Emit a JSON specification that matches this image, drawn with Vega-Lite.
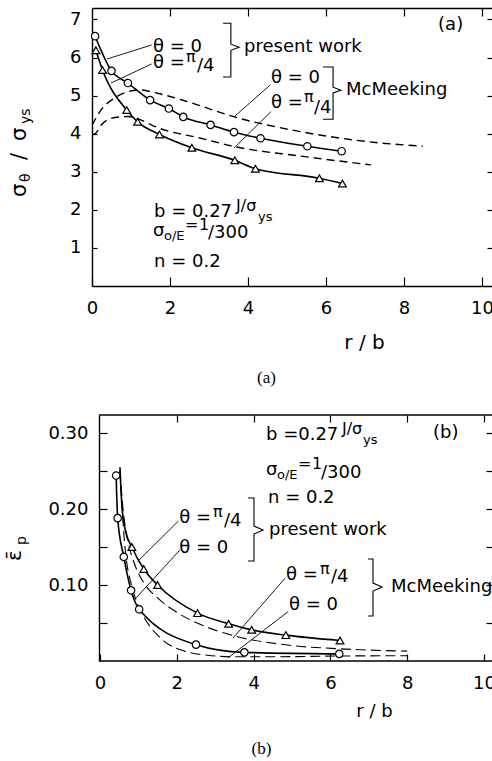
{
  "$schema": "https://vega.github.io/schema/vega-lite/v6.json",
  "background": "white",
  "padding": {"left": 4, "top": 7, "right": -3, "bottom": 0},
  "spacing": 28,
  "config": {
    "view": {"stroke": null},
    "axis": {
      "grid": false, "labelFont": "DejaVu Sans", "labelFontSize": 18, "labelColor": "black",
      "labelFlush": false, "labelOverlap": false, "domainColor": "black", "domainWidth": 1.4,
      "tickColor": "black", "tickWidth": 1.2, "titleFont": "DejaVu Sans", "titleFontSize": 20,
      "titleFontWeight": "normal", "titleColor": "black"
    },
    "title": {"font": "Liberation Serif", "fontSize": 17, "fontWeight": "normal", "color": "black"}
  },
  "datasets": {
    "a_curves": [
      {"s": "pw0", "x": 0.08, "y": 6.56}, {"s": "pw0", "x": 0.5, "y": 5.65}, {"s": "pw0", "x": 0.92, "y": 5.33},
      {"s": "pw0", "x": 1.49, "y": 4.88}, {"s": "pw0", "x": 1.97, "y": 4.66}, {"s": "pw0", "x": 2.34, "y": 4.44},
      {"s": "pw0", "x": 3.04, "y": 4.23}, {"s": "pw0", "x": 3.64, "y": 4.04}, {"s": "pw0", "x": 4.32, "y": 3.88},
      {"s": "pw0", "x": 5.52, "y": 3.67}, {"s": "pw0", "x": 6.4, "y": 3.54},
      {"s": "pw45", "x": 0.1, "y": 6.19}, {"s": "pw45", "x": 0.27, "y": 5.67}, {"s": "pw45", "x": 0.89, "y": 4.62},
      {"s": "pw45", "x": 1.17, "y": 4.31}, {"s": "pw45", "x": 1.73, "y": 3.98}, {"s": "pw45", "x": 2.56, "y": 3.63},
      {"s": "pw45", "x": 3.66, "y": 3.3}, {"s": "pw45", "x": 4.19, "y": 3.08}, {"s": "pw45", "x": 5.83, "y": 2.83},
      {"s": "pw45", "x": 6.42, "y": 2.69},
      {"s": "mm0", "x": 0.0, "y": 4.22}, {"s": "mm0", "x": 0.23, "y": 4.62}, {"s": "mm0", "x": 0.57, "y": 4.93},
      {"s": "mm0", "x": 0.92, "y": 5.1}, {"s": "mm0", "x": 1.2, "y": 5.15}, {"s": "mm0", "x": 1.68, "y": 5.06},
      {"s": "mm0", "x": 2.45, "y": 4.84}, {"s": "mm0", "x": 3.65, "y": 4.44}, {"s": "mm0", "x": 5.36, "y": 4.05},
      {"s": "mm0", "x": 7.07, "y": 3.79}, {"s": "mm0", "x": 8.48, "y": 3.67},
      {"s": "mm45", "x": 0.0, "y": 3.97}, {"s": "mm45", "x": 0.1, "y": 4.02}, {"s": "mm45", "x": 0.23, "y": 4.22},
      {"s": "mm45", "x": 0.49, "y": 4.4}, {"s": "mm45", "x": 0.92, "y": 4.45}, {"s": "mm45", "x": 1.2, "y": 4.38},
      {"s": "mm45", "x": 1.68, "y": 4.16}, {"s": "mm45", "x": 2.79, "y": 3.88}, {"s": "mm45", "x": 3.65, "y": 3.66},
      {"s": "mm45", "x": 5.36, "y": 3.41}, {"s": "mm45", "x": 7.15, "y": 3.18}
    ],
    "a_leaders": [
      {"x": 1.53, "y": 6.33, "x2": 0.385, "y2": 5.96},
      {"x": 1.53, "y": 5.83, "x2": 0.487, "y2": 5.33},
      {"x": 4.57, "y": 5.28, "x2": 3.64, "y2": 4.44},
      {"x": 4.59, "y": 4.58, "x2": 3.64, "y2": 3.62}
    ],
    "a_brackets": [
      {"g": 1, "i": 1, "x": 3.36, "y": 6.9}, {"g": 1, "i": 2, "x": 3.56, "y": 6.9}, {"g": 1, "i": 3, "x": 3.56, "y": 6.35},
      {"g": 1, "i": 4, "x": 3.77, "y": 6.27}, {"g": 1, "i": 5, "x": 3.56, "y": 6.19}, {"g": 1, "i": 6, "x": 3.56, "y": 5.49},
      {"g": 1, "i": 7, "x": 3.36, "y": 5.49},
      {"g": 2, "i": 1, "x": 5.92, "y": 5.75}, {"g": 2, "i": 2, "x": 6.18, "y": 5.75}, {"g": 2, "i": 3, "x": 6.18, "y": 5.22},
      {"g": 2, "i": 4, "x": 6.38, "y": 5.14}, {"g": 2, "i": 5, "x": 6.18, "y": 5.07}, {"g": 2, "i": 6, "x": 6.18, "y": 4.38},
      {"g": 2, "i": 7, "x": 5.92, "y": 4.38}
    ],
    "a_text": [
      {"x": 1.564, "y": 6.273, "t": "θ = 0"},
      {"x": 1.564, "y": 5.853, "t": "θ ="},
      {"x": 2.692, "y": 5.774, "t": "/4"},
      {"x": 3.897, "y": 6.273, "t": "present work"},
      {"x": 4.59, "y": 5.459, "t": "θ = 0"},
      {"x": 4.59, "y": 4.803, "t": "θ ="},
      {"x": 5.692, "y": 4.672, "t": "/4"},
      {"x": 6.513, "y": 5.144, "t": "McMeeking"},
      {"x": 8.872, "y": 6.85, "t": "(a)"},
      {"x": 1.59, "y": 1.942, "t": "b = 0.27"},
      {"x": 1.564, "y": 1.444, "t": "σ"},
      {"x": 2.974, "y": 1.39, "t": "/300"},
      {"x": 1.59, "y": 0.63, "t": "n = 0.2"}
    ],
    "a_sup": [
      {"x": 2.41, "y": 5.853, "t": "π"},
      {"x": 5.436, "y": 4.803, "t": "π"},
      {"x": 3.692, "y": 1.942, "t": "J/σ"},
      {"x": 2.385, "y": 1.444, "t": "="},
      {"x": 2.744, "y": 1.444, "t": "1"}
    ],
    "a_sub": [
      {"x": 4.256, "y": 1.942, "t": "ys"},
      {"x": 1.846, "y": 1.444, "t": "o/E"}
    ],
    "a_ytitle": [
      {"x": -1.846, "y": 2.336, "t": "σ"},
      {"x": -1.846, "y": 3.307, "t": "/"},
      {"x": -1.846, "y": 3.806, "t": "σ"}
    ],
    "a_ytitle_sub": [
      {"x": -1.846, "y": 2.73, "t": "θ"},
      {"x": -1.846, "y": 4.252, "t": "ys"}
    ],
    "b_curves": [
      {"s": "pw0", "m": 1, "x": 0.42, "y": 0.244}, {"s": "pw0", "m": 1, "x": 0.46, "y": 0.188},
      {"s": "pw0", "m": 1, "x": 0.62, "y": 0.137}, {"s": "pw0", "m": 1, "x": 0.81, "y": 0.093},
      {"s": "pw0", "m": 1, "x": 1.02, "y": 0.068}, {"s": "pw0", "m": 1, "x": 2.5, "y": 0.0215},
      {"s": "pw0", "m": 1, "x": 3.76, "y": 0.0114}, {"s": "pw0", "m": 1, "x": 6.23, "y": 0.0094},
      {"s": "pw45", "m": 0, "x": 0.52, "y": 0.255}, {"s": "pw45", "m": 0, "x": 0.57, "y": 0.205},
      {"s": "pw45", "m": 0, "x": 0.66, "y": 0.172}, {"s": "pw45", "m": 1, "x": 0.83, "y": 0.15},
      {"s": "pw45", "m": 1, "x": 1.14, "y": 0.121}, {"s": "pw45", "m": 1, "x": 1.5, "y": 0.1},
      {"s": "pw45", "m": 1, "x": 2.54, "y": 0.063}, {"s": "pw45", "m": 1, "x": 3.35, "y": 0.049},
      {"s": "pw45", "m": 1, "x": 3.95, "y": 0.041}, {"s": "pw45", "m": 1, "x": 4.84, "y": 0.034},
      {"s": "pw45", "m": 1, "x": 6.25, "y": 0.027},
      {"s": "mm45", "m": 0, "x": 0.52, "y": 0.25}, {"s": "mm45", "m": 0, "x": 0.6, "y": 0.2},
      {"s": "mm45", "m": 0, "x": 0.72, "y": 0.16}, {"s": "mm45", "m": 0, "x": 0.92, "y": 0.125},
      {"s": "mm45", "m": 0, "x": 1.18, "y": 0.1}, {"s": "mm45", "m": 0, "x": 1.5, "y": 0.083},
      {"s": "mm45", "m": 0, "x": 2.1, "y": 0.061}, {"s": "mm45", "m": 0, "x": 2.62, "y": 0.048},
      {"s": "mm45", "m": 0, "x": 3.5, "y": 0.033}, {"s": "mm45", "m": 0, "x": 4.88, "y": 0.021},
      {"s": "mm45", "m": 0, "x": 6.27, "y": 0.016}, {"s": "mm45", "m": 0, "x": 8.0, "y": 0.013},
      {"s": "mm0", "m": 0, "x": 0.52, "y": 0.25}, {"s": "mm0", "m": 0, "x": 0.65, "y": 0.15},
      {"s": "mm0", "m": 0, "x": 0.82, "y": 0.1}, {"s": "mm0", "m": 0, "x": 0.98, "y": 0.075},
      {"s": "mm0", "m": 0, "x": 1.24, "y": 0.05}, {"s": "mm0", "m": 0, "x": 1.5, "y": 0.034},
      {"s": "mm0", "m": 0, "x": 1.78, "y": 0.022}, {"s": "mm0", "m": 0, "x": 2.2, "y": 0.013},
      {"s": "mm0", "m": 0, "x": 2.8, "y": 0.0075}, {"s": "mm0", "m": 0, "x": 3.5, "y": 0.0055},
      {"s": "mm0", "m": 0, "x": 4.4, "y": 0.0055}, {"s": "mm0", "m": 0, "x": 6.1, "y": 0.0065},
      {"s": "mm0", "m": 0, "x": 8.0, "y": 0.007}
    ],
    "b_leaders": [
      {"x": 2.04, "y": 0.184, "x2": 0.98, "y2": 0.131},
      {"x": 2.08, "y": 0.146, "x2": 0.94, "y2": 0.083},
      {"x": 4.82, "y": 0.109, "x2": 3.46, "y2": 0.03},
      {"x": 4.9, "y": 0.065, "x2": 3.33, "y2": 0.004}
    ],
    "b_brackets": [
      {"g": 1, "i": 1, "x": 3.854, "y": 0.2145}, {"g": 1, "i": 2, "x": 4.01, "y": 0.2145}, {"g": 1, "i": 3, "x": 4.01, "y": 0.1776},
      {"g": 1, "i": 4, "x": 4.245, "y": 0.1724}, {"g": 1, "i": 5, "x": 4.01, "y": 0.1671}, {"g": 1, "i": 6, "x": 4.01, "y": 0.1316},
      {"g": 1, "i": 7, "x": 3.854, "y": 0.1316},
      {"g": 2, "i": 1, "x": 6.979, "y": 0.1342}, {"g": 2, "i": 2, "x": 7.109, "y": 0.1342}, {"g": 2, "i": 3, "x": 7.109, "y": 0.1026},
      {"g": 2, "i": 4, "x": 7.344, "y": 0.0974}, {"g": 2, "i": 5, "x": 7.109, "y": 0.0921}, {"g": 2, "i": 6, "x": 7.109, "y": 0.0592},
      {"g": 2, "i": 7, "x": 6.979, "y": 0.0592}
    ],
    "b_text": [
      {"x": 4.323, "y": 0.2974, "t": "b =0.27"},
      {"x": 8.672, "y": 0.3, "t": "(b)"},
      {"x": 4.323, "y": 0.2513, "t": "σ"},
      {"x": 5.755, "y": 0.248, "t": "/300"},
      {"x": 4.375, "y": 0.2145, "t": "n = 0.2"},
      {"x": 2.065, "y": 0.1882, "t": "θ ="},
      {"x": 3.229, "y": 0.1842, "t": "/4"},
      {"x": 2.065, "y": 0.1487, "t": "θ = 0"},
      {"x": 4.401, "y": 0.1724, "t": "present work"},
      {"x": 4.844, "y": 0.1132, "t": "θ ="},
      {"x": 6.016, "y": 0.1105, "t": "/4"},
      {"x": 4.922, "y": 0.0737, "t": "θ = 0"},
      {"x": 7.578, "y": 0.0974, "t": "McMeeking"}
    ],
    "b_sup": [
      {"x": 6.302, "y": 0.2974, "t": "J/σ"},
      {"x": 5.156, "y": 0.2513, "t": "="},
      {"x": 5.521, "y": 0.2513, "t": "1"},
      {"x": 2.943, "y": 0.1882, "t": "π"},
      {"x": 5.729, "y": 0.1132, "t": "π"}
    ],
    "b_sub": [
      {"x": 6.849, "y": 0.2974, "t": "ys"},
      {"x": 4.609, "y": 0.2513, "t": "o/E"}
    ],
    "b_ytitle": [
      {"x": -2.214, "y": 0.1316, "t": "ε̄"}
    ],
    "b_ytitle_sub": [
      {"x": -2.214, "y": 0.1526, "t": "p"}
    ]
  },
  "vconcat": [
    {
      "width": 401,
      "height": 278,
      "title": {"text": "(a)", "orient": "bottom", "anchor": "middle", "frame": "group", "dx": -26, "offset": 18, "baseline": "top"},
      "layer": [
        {
          "data": {"name": "a_curves"},
          "transform": [{"filter": "datum.s == 'pw0' || datum.s == 'pw45'"}],
          "mark": {"type": "line", "interpolate": "monotone", "color": "black", "strokeWidth": 1.6},
          "encoding": {
            "x": {"field": "x", "type": "quantitative", "scale": {"domain": [0, 10.28], "nice": false, "zero": false},
                  "axis": {"orient": "bottom", "values": [0, 2, 4, 6, 8, 10], "tickSize": -9, "labelPadding": 31, "labelBaseline": "middle",
                           "title": "r / b", "titleX": 272, "titleY": 56, "titleAlign": "center", "titleBaseline": "middle", "titleAngle": 0}},
            "y": {"field": "y", "type": "quantitative", "scale": {"domain": [0, 7.3], "nice": false, "zero": false},
                  "axis": {"orient": "left", "values": [1, 2, 3, 4, 5, 6, 7], "tickSize": -5, "labelPadding": 16, "title": null}},
            "detail": {"field": "s"}
          }
        },
        {
          "data": {"name": "a_curves"},
          "transform": [{"filter": "datum.s == 'mm0' || datum.s == 'mm45'"}],
          "mark": {"type": "line", "interpolate": "monotone", "color": "black", "strokeWidth": 1.4, "strokeDash": [8, 5]},
          "encoding": {
            "x": {"field": "x", "type": "quantitative",
                  "axis": {"orient": "top", "values": [2, 4, 6, 8, 10], "tickSize": -8, "labels": false, "title": null}},
            "y": {"field": "y", "type": "quantitative",
                  "axis": {"orient": "right", "values": [1, 2, 3, 4, 5, 6, 7], "tickSize": -6, "labels": false, "domain": false, "title": null}},
            "detail": {"field": "s"}
          }
        },
        {
          "data": {"name": "a_curves"},
          "transform": [{"filter": "datum.s == 'pw0'"}],
          "mark": {"type": "point", "shape": "circle", "size": 55, "filled": true, "fill": "white", "stroke": "black", "strokeWidth": 1.2, "opacity": 1},
          "encoding": {
            "x": {"field": "x", "type": "quantitative", "axis": null},
            "y": {"field": "y", "type": "quantitative", "axis": null}
          }
        },
        {
          "data": {"name": "a_curves"},
          "transform": [{"filter": "datum.s == 'pw45'"}],
          "mark": {"type": "point", "shape": "triangle-up", "size": 60, "filled": true, "fill": "white", "stroke": "black", "strokeWidth": 1.2, "opacity": 1},
          "encoding": {
            "x": {"field": "x", "type": "quantitative", "axis": null},
            "y": {"field": "y", "type": "quantitative", "axis": null}
          }
        },
        {
          "data": {"name": "a_leaders"},
          "mark": {"type": "rule", "color": "black", "strokeWidth": 0.9},
          "encoding": {
            "x": {"field": "x", "type": "quantitative", "axis": null},
            "y": {"field": "y", "type": "quantitative", "axis": null},
            "x2": {"field": "x2"},
            "y2": {"field": "y2"}
          }
        },
        {
          "data": {"name": "a_brackets"},
          "mark": {"type": "line", "color": "black", "strokeWidth": 1.1},
          "encoding": {
            "x": {"field": "x", "type": "quantitative", "axis": null},
            "y": {"field": "y", "type": "quantitative", "axis": null},
            "detail": {"field": "g"},
            "order": {"field": "i"}
          }
        },
        {
          "data": {"name": "a_text"},
          "mark": {"type": "text", "font": "DejaVu Sans", "fontSize": 18, "align": "left", "baseline": "middle", "color": "black"},
          "encoding": {
            "x": {"field": "x", "type": "quantitative", "axis": null},
            "y": {"field": "y", "type": "quantitative", "axis": null},
            "text": {"field": "t"}
          }
        },
        {
          "data": {"name": "a_sup"},
          "mark": {"type": "text", "font": "DejaVu Sans", "fontSize": 16, "align": "left", "baseline": "middle", "dy": -6, "color": "black"},
          "encoding": {
            "x": {"field": "x", "type": "quantitative", "axis": null},
            "y": {"field": "y", "type": "quantitative", "axis": null},
            "text": {"field": "t"}
          }
        },
        {
          "data": {"name": "a_sub"},
          "mark": {"type": "text", "font": "DejaVu Sans", "fontSize": 13, "align": "left", "baseline": "middle", "dy": 5, "color": "black"},
          "encoding": {
            "x": {"field": "x", "type": "quantitative", "axis": null},
            "y": {"field": "y", "type": "quantitative", "axis": null},
            "text": {"field": "t"}
          }
        },
        {
          "data": {"name": "a_ytitle"},
          "mark": {"type": "text", "font": "DejaVu Sans", "fontSize": 21, "align": "left", "baseline": "middle", "angle": 270, "color": "black"},
          "encoding": {
            "x": {"field": "x", "type": "quantitative", "axis": null},
            "y": {"field": "y", "type": "quantitative", "axis": null},
            "text": {"field": "t"}
          }
        },
        {
          "data": {"name": "a_ytitle_sub"},
          "mark": {"type": "text", "font": "DejaVu Sans", "fontSize": 14, "align": "left", "baseline": "middle", "angle": 270, "dy": 6, "color": "black"},
          "encoding": {
            "x": {"field": "x", "type": "quantitative", "axis": null},
            "y": {"field": "y", "type": "quantitative", "axis": null},
            "text": {"field": "t"}
          }
        }
      ],
      "resolve": {"axis": {"x": "independent", "y": "independent"}}
    },
    {
      "width": 401,
      "height": 246,
      "title": {"text": "(b)", "orient": "bottom", "anchor": "middle", "frame": "group", "dx": -31, "offset": 21, "baseline": "top"},
      "layer": [
        {
          "data": {"name": "b_curves"},
          "transform": [{"filter": "datum.s == 'pw0' || datum.s == 'pw45'"}],
          "mark": {"type": "line", "interpolate": "monotone", "color": "black", "strokeWidth": 1.6},
          "encoding": {
            "x": {"field": "x", "type": "quantitative", "scale": {"domain": [-0.208, 10.234], "nice": false, "zero": false},
                  "axis": {"orient": "bottom", "values": [0, 2, 4, 6, 8, 10], "tickSize": -7, "labelPadding": 29, "labelBaseline": "middle", "domain": false,
                           "title": "r / b", "titleX": 282, "titleY": 50, "titleAlign": "center", "titleBaseline": "middle", "titleAngle": 0, "titleFontSize": 18}},
            "y": {"field": "y", "type": "quantitative", "scale": {"domain": [0, 0.3237], "nice": false, "zero": false},
                  "axis": {"orient": "left", "values": [0.05, 0.1, 0.15, 0.2, 0.25, 0.3], "offset": -7, "tickSize": -8, "labelPadding": 19,
                           "labelExpr": "round(datum.value * 20) % 2 == 0 ? format(datum.value, '.2f') : ''", "title": null}},
            "detail": {"field": "s"}
          }
        },
        {
          "data": {"name": "b_curves"},
          "transform": [{"filter": "datum.s == 'mm0' || datum.s == 'mm45'"}],
          "mark": {"type": "line", "interpolate": "monotone", "color": "black", "strokeWidth": 1.1, "strokeDash": [10, 5]},
          "encoding": {
            "x": {"field": "x", "type": "quantitative",
                  "axis": {"orient": "top", "values": [2, 4, 6, 8, 10], "tickSize": -7, "labels": false, "domain": false, "title": null}},
            "y": {"field": "y", "type": "quantitative",
                  "axis": {"orient": "right", "values": [0.05, 0.1, 0.15, 0.2, 0.25, 0.3], "tickSize": -7, "labels": false, "domain": false, "title": null}},
            "detail": {"field": "s"}
          }
        },
        {
          "data": {"values": [{}]},
          "mark": {"type": "rule", "color": "black", "strokeWidth": 1.4},
          "encoding": {
            "x": {"datum": -0.026, "type": "quantitative", "axis": null},
            "x2": {"datum": 10.234},
            "y": {"datum": 0, "type": "quantitative", "axis": null}
          }
        },
        {
          "data": {"values": [{}]},
          "mark": {"type": "rule", "color": "black", "strokeWidth": 1.4},
          "encoding": {
            "x": {"datum": -0.026, "type": "quantitative", "axis": null},
            "x2": {"datum": 10.234},
            "y": {"datum": 0.3237, "type": "quantitative", "axis": null}
          }
        },
        {
          "data": {"name": "b_curves"},
          "transform": [{"filter": "datum.s == 'pw0' && datum.m == 1"}],
          "mark": {"type": "point", "shape": "circle", "size": 55, "filled": true, "fill": "white", "stroke": "black", "strokeWidth": 1.2, "opacity": 1},
          "encoding": {
            "x": {"field": "x", "type": "quantitative", "axis": null},
            "y": {"field": "y", "type": "quantitative", "axis": null}
          }
        },
        {
          "data": {"name": "b_curves"},
          "transform": [{"filter": "datum.s == 'pw45' && datum.m == 1"}],
          "mark": {"type": "point", "shape": "triangle-up", "size": 60, "filled": true, "fill": "white", "stroke": "black", "strokeWidth": 1.2, "opacity": 1},
          "encoding": {
            "x": {"field": "x", "type": "quantitative", "axis": null},
            "y": {"field": "y", "type": "quantitative", "axis": null}
          }
        },
        {
          "data": {"name": "b_leaders"},
          "mark": {"type": "rule", "color": "black", "strokeWidth": 0.9},
          "encoding": {
            "x": {"field": "x", "type": "quantitative", "axis": null},
            "y": {"field": "y", "type": "quantitative", "axis": null},
            "x2": {"field": "x2"},
            "y2": {"field": "y2"}
          }
        },
        {
          "data": {"name": "b_brackets"},
          "mark": {"type": "line", "color": "black", "strokeWidth": 1.1},
          "encoding": {
            "x": {"field": "x", "type": "quantitative", "axis": null},
            "y": {"field": "y", "type": "quantitative", "axis": null},
            "detail": {"field": "g"},
            "order": {"field": "i"}
          }
        },
        {
          "data": {"name": "b_text"},
          "mark": {"type": "text", "font": "DejaVu Sans", "fontSize": 18, "align": "left", "baseline": "middle", "color": "black"},
          "encoding": {
            "x": {"field": "x", "type": "quantitative", "axis": null},
            "y": {"field": "y", "type": "quantitative", "axis": null},
            "text": {"field": "t"}
          }
        },
        {
          "data": {"name": "b_sup"},
          "mark": {"type": "text", "font": "DejaVu Sans", "fontSize": 16, "align": "left", "baseline": "middle", "dy": -6, "color": "black"},
          "encoding": {
            "x": {"field": "x", "type": "quantitative", "axis": null},
            "y": {"field": "y", "type": "quantitative", "axis": null},
            "text": {"field": "t"}
          }
        },
        {
          "data": {"name": "b_sub"},
          "mark": {"type": "text", "font": "DejaVu Sans", "fontSize": 13, "align": "left", "baseline": "middle", "dy": 5, "color": "black"},
          "encoding": {
            "x": {"field": "x", "type": "quantitative", "axis": null},
            "y": {"field": "y", "type": "quantitative", "axis": null},
            "text": {"field": "t"}
          }
        },
        {
          "data": {"name": "b_ytitle"},
          "mark": {"type": "text", "font": "DejaVu Sans", "fontSize": 20, "align": "left", "baseline": "middle", "angle": 270, "color": "black"},
          "encoding": {
            "x": {"field": "x", "type": "quantitative", "axis": null},
            "y": {"field": "y", "type": "quantitative", "axis": null},
            "text": {"field": "t"}
          }
        },
        {
          "data": {"name": "b_ytitle_sub"},
          "mark": {"type": "text", "font": "DejaVu Sans", "fontSize": 14, "align": "left", "baseline": "middle", "angle": 270, "dy": 7, "color": "black"},
          "encoding": {
            "x": {"field": "x", "type": "quantitative", "axis": null},
            "y": {"field": "y", "type": "quantitative", "axis": null},
            "text": {"field": "t"}
          }
        }
      ],
      "resolve": {"axis": {"x": "independent", "y": "independent"}}
    }
  ]
}
